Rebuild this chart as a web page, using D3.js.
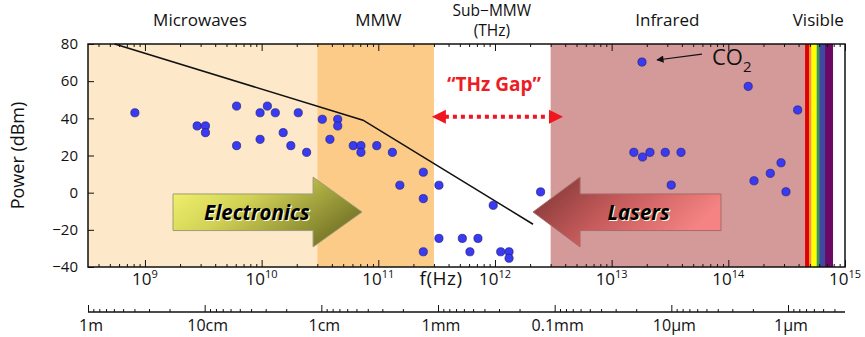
<!DOCTYPE html>
<html>
<head>
<meta charset="utf-8">
<script src="https://cdn.jsdelivr.net/npm/d3@7"></script>
<style>
  body { margin: 0; background: #fff; }
  text { font-family: "Open Sans", sans-serif; fill: #111; }
</style>
</head>
<body>
<div id="chart"></div>
<script>
// source frequency (Hz) and output power (dBm)
const sourceFreqs = [
  8.2e8, 2.8e9, 3.3e9, 3.3e9, 6.1e9, 6.1e9, 9.7e9, 9.7e9, 1.12e10, 1.31e10,
  1.53e10, 1.78e10, 2.06e10, 2.43e10, 3.31e10, 4.49e10, 4.49e10, 3.85e10, 6.1e10, 7.1e10,
  7.1e10, 9.7e10, 1.32e11, 2.43e11, 1.53e11, 3.31e11, 2.43e11, 9.66e11, 2.46e12, 3.31e11,
  5.25e11, 7.15e11, 2.43e11, 6.1e11, 1.12e12, 1.32e12, 1.32e12,
  1.55e13, 1.84e13, 2.13e13, 2.88e13, 3.93e13, 3.24e13, 1.66e14, 2.29e14, 2.83e14,
  3.12e14, 3.93e14, 1.82e13, 1.48e14
];
const sourcePowers = [
  43, 35.9, 35.9, 32.3, 46.6, 25.3, 43, 28.7, 46.6, 43,
  32.3, 25.3, 43, 21.7, 39.5, 39.5, 35.9, 28.7, 25.3, 25.3,
  21.7, 25.3, 21.7, 11, 4, 4, -3.2, -6.8, 0.4, -24.6,
  -24.6, -24.6, -31.8, -31.8, -31.8, -31.8, -35.3,
  21.7, 19.2, 21.7, 21.7, 21.7, 4.1, 6.4, 10.4, 16.1,
  0.5, 44.5, 70.3, 57.2
];

// electronics power limit line
const limitFreqs = [5.5e8, 7.4e10, 2.12e12];
const limitPowers = [80, 39, -17];

// spectral regions (Hz)
const regionNames = ["Microwaves", "MMW", "Sub\u2212MMW", "Infrared", "Visible"];
const regionLabelFreqs = [2.96e9, 1e11, 9.4e11, 3.0e13, 5.9e14];
const regionStarts = [3.25e8, 3e10, 3e11, 3e12];
const regionEnds = [3e10, 3e11, 3e12, 4.545e14];
const regionColors = ["#fde9c9", "#fccb88", "#ffffff", "#d49999"];

// visible colours, wavelength edges in nm
const visibleEdgesNm = [660, 610, 580, 525, 500, 445, 380];
const visibleColors = ["#e00000", "#f7941d", "#ffff00", "#3aa035", "#3d4a9f", "#6a0a66"];

// axes
const powerTicks = [80, 60, 40, 20, 0, -20, -40];
const freqExponents = [9, 10, 11, 12, 13, 14, 15];
const waveTicks = [1, 0.1, 0.01, 1e-3, 1e-4, 1e-5, 1e-6];
const waveLabels = ["1m", "10cm", "1cm", "1mm", "0.1mm", "10\u00b5m", "1\u00b5m"];

const width = 865, height = 337;
const plot = {left: 88, right: 845, top: 44, bottom: 267};

const svg = d3.select("#chart")
  .append("svg")
  .attr("width", width)
  .attr("height", height);

const x = d3.scaleLog()
  .domain([3.25e8, 1e15])
  .range([plot.left, plot.right]);

const y = d3.scaleLinear()
  .domain([-40, 80])
  .range([plot.bottom, plot.top]);

const lam = d3.scaleLog()
  .domain([1, 1e-6])
  .range([plot.left, 788]);

const defs = svg.append("defs");
const gElec = defs.append("linearGradient").attr("id", "elec")
  .attr("x1", 0).attr("y1", 0).attr("x2", 1).attr("y2", 0.5);
gElec.append("stop").attr("offset", "0%").attr("stop-color", "#f8f872");
gElec.append("stop").attr("offset", "45%").attr("stop-color", "#d0d055");
gElec.append("stop").attr("offset", "100%").attr("stop-color", "#7b7b2a");
const gLas = defs.append("linearGradient").attr("id", "las")
  .attr("x1", 0).attr("y1", 0).attr("x2", 1).attr("y2", 0.4);
gLas.append("stop").attr("offset", "0%").attr("stop-color", "#7a3232");
gLas.append("stop").attr("offset", "50%").attr("stop-color", "#c45a5a");
gLas.append("stop").attr("offset", "100%").attr("stop-color", "#f58383");

// region backgrounds
svg.selectAll("rect.region")
  .data(regionStarts)
  .enter()
  .append("rect")
  .attr("class", "region")
  .attr("x", d => x(d))
  .attr("y", plot.top)
  .attr("width", (d, i) => x(regionEnds[i]) - x(d))
  .attr("height", plot.bottom - plot.top)
  .attr("fill", (d, i) => regionColors[i]);

// rainbow
svg.selectAll("rect.vis")
  .data(visibleColors)
  .enter()
  .append("rect")
  .attr("class", "vis")
  .attr("x", (d, i) => x(3e17 / visibleEdgesNm[i]))
  .attr("y", plot.top)
  .attr("width", (d, i) => x(3e17 / visibleEdgesNm[i + 1]) - x(3e17 / visibleEdgesNm[i]))
  .attr("height", plot.bottom - plot.top)
  .attr("fill", d => d);

// minor/major tick values for frequency
const freqMajors = freqExponents.map(e => Math.pow(10, e));
const freqMinors = [];
for (let e = 8; e < 15; e++) {
  for (let k = 2; k <= 9; k++) {
    const v = k * Math.pow(10, e);
    if (v >= 3.25e8 && v <= 1e15) freqMinors.push(v);
  }
}

function ticks(axis, values, size, yPos) {
  const g = svg.append("g")
    .attr("transform", `translate(0,${yPos})`)
    .call(axis(x).tickValues(values).tickSize(size).tickFormat(""));
  g.select(".domain").remove();
  g.selectAll("line").attr("stroke", "#111").attr("stroke-width", 1);
}
ticks(d3.axisBottom, freqMajors, -7, plot.bottom);
ticks(d3.axisBottom, freqMinors, -3, plot.bottom);
ticks(d3.axisTop, freqMajors, -7, plot.top);
ticks(d3.axisTop, freqMinors, -3, plot.top);

// y axis
const yAxis = svg.append("g")
  .attr("transform", `translate(${plot.left},0)`)
  .call(d3.axisLeft(y).tickValues(powerTicks).tickSize(-6).tickPadding(10));
yAxis.select(".domain").remove();
yAxis.selectAll("line").attr("stroke", "#111");
yAxis.selectAll("text")
  .attr("font-size", 15)
  .attr("font-family", "Open Sans, sans-serif")
  .attr("x", -10)
  .style("fill", "#111");

// frame
svg.append("rect")
  .attr("x", plot.left)
  .attr("y", plot.top)
  .attr("width", plot.right - plot.left)
  .attr("height", plot.bottom - plot.top)
  .attr("fill", "none")
  .attr("stroke", "#111")
  .attr("stroke-width", 1.5);

// limit line
const line = d3.line()
  .x(d => x(d[0]))
  .y(d => y(d[1]));
svg.append("path")
  .datum(limitFreqs.map((f, i) => [f, limitPowers[i]]))
  .attr("d", line)
  .attr("fill", "none")
  .attr("stroke", "#111")
  .attr("stroke-width", 1.6);

// arrows
function arrowPath(tail, base, tip, bodyTop, bodyBot, headTop, headBot, mid) {
  return line([
    [tail, bodyTop], [base, bodyTop], [base, headTop], [tip, mid],
    [base, headBot], [base, bodyBot], [tail, bodyBot]
  ]) + "Z";
}
svg.append("path")
  .attr("d", arrowPath(1.74e9, 2.76e10, 7.25e10, -0.7, -20.4, 8.4, -29.2, -10.4))
  .attr("fill", "url(#elec)")
  .attr("stroke", "#9c9c78")
  .attr("stroke-width", 1);
svg.append("path")
  .attr("d", arrowPath(8.65e13, 5.36e12, 2.12e12, -0.7, -20.4, 8.4, -29.2, -10.4))
  .attr("fill", "url(#las)")
  .attr("stroke", "#a86a6a")
  .attr("stroke-width", 1);

function shadowText(txt, fx, py) {
  [["#fffbe0", 1.2], ["#000", 0]].forEach(s => {
    svg.append("text")
      .attr("x", x(fx) + s[1])
      .attr("y", y(py) + s[1])
      .attr("text-anchor", "middle")
      .attr("font-family", "Liberation Sans, Arial, sans-serif")
      .attr("font-size", 20.5)
      .attr("font-weight", "bold")
      .attr("font-style", "italic")
      .style("fill", s[0])
      .text(txt);
  });
}
shadowText("Electronics", 9.1e9, -14.5);
shadowText("Lasers", 1.7e13, -14.5);

// data points
svg.selectAll("circle.src")
  .data(sourceFreqs)
  .enter()
  .append("circle")
  .attr("class", "src")
  .attr("cx", d => x(d))
  .attr("cy", (d, i) => y(sourcePowers[i]))
  .attr("r", 4.1)
  .attr("fill", "#3a3af2")
  .attr("stroke", "#20207a")
  .attr("stroke-width", 0.7);

// THz gap
const gapY = y(40.9);
const gapL = x(2.88e11), gapR = x(3.83e12);
svg.append("line")
  .attr("x1", gapL + 13).attr("x2", gapR - 13)
  .attr("y1", gapY).attr("y2", gapY)
  .attr("stroke", "#f01620")
  .attr("stroke-width", 4)
  .attr("stroke-dasharray", "4,4");
svg.append("path")
  .attr("d", `M${gapL},${gapY}L${gapL + 14},${gapY - 7}L${gapL + 14},${gapY + 7}Z`)
  .attr("fill", "#f01620");
svg.append("path")
  .attr("d", `M${gapR},${gapY}L${gapR - 14},${gapY - 7}L${gapR - 14},${gapY + 7}Z`)
  .attr("fill", "#f01620");
svg.append("text")
  .attr("x", x(9.8e11))
  .attr("y", y(54.5))
  .attr("text-anchor", "middle")
  .attr("font-family", "Liberation Sans, Arial, sans-serif")
  .attr("font-size", 19)
  .attr("font-weight", "bold")
  .style("fill", "#ee1c24")
  .text("\u201cTHz Gap\u201d");

// CO2 note
defs.append("marker")
  .attr("id", "tip")
  .attr("viewBox", "0 0 10 10")
  .attr("refX", 9).attr("refY", 5)
  .attr("markerWidth", 8).attr("markerHeight", 6)
  .attr("orient", "auto")
  .append("path")
  .attr("d", "M0,0L10,5L0,10Z")
  .attr("fill", "#111");
svg.append("line")
  .attr("x1", x(5.94e13)).attr("y1", y(74.6))
  .attr("x2", x(2.45e13)).attr("y2", y(71.4))
  .attr("stroke", "#111")
  .attr("stroke-width", 1.2)
  .attr("marker-end", "url(#tip)");
const co2 = svg.append("text")
  .attr("x", x(7.24e13))
  .attr("y", y(68.7))
  .attr("font-family", "Liberation Serif, Times New Roman, serif")
  .attr("font-size", 22);
co2.append("tspan").text("CO");
co2.append("tspan").attr("font-size", 15).attr("dy", 7).text("2");

// region labels
svg.selectAll("text.region")
  .data(regionNames)
  .enter()
  .append("text")
  .attr("class", "region")
  .attr("x", (d, i) => x(regionLabelFreqs[i]))
  .attr("y", (d, i) => i === 2 ? 16 : 26)
  .attr("font-size", (d, i) => i === 2 ? 15.5 : 17)
  .attr("text-anchor", "middle")
  .text(d => d);
svg.append("text")
  .attr("x", x(9.4e11))
  .attr("y", 36)
  .attr("text-anchor", "middle")
  .attr("font-size", 15.5)
  .text("(THz)");

// frequency labels
svg.selectAll("text.freq")
  .data(freqExponents)
  .enter()
  .append("text")
  .attr("class", "freq")
  .attr("x", d => x(Math.pow(10, d)))
  .attr("y", 285)
  .attr("text-anchor", "middle")
  .attr("font-size", 17)
  .each(function(d) {
    d3.select(this).append("tspan").text("10");
    d3.select(this).append("tspan").attr("font-size", 11).attr("dy", -7).text(d);
  });
svg.append("text")
  .attr("x", 441)
  .attr("y", 285)
  .attr("text-anchor", "middle")
  .attr("font-size", 19)
  .attr("letter-spacing", 0.5)
  .text("f(Hz)");

// y label
svg.append("text")
  .attr("transform", `translate(24,${(plot.top + plot.bottom) / 2}) rotate(-90)`)
  .attr("text-anchor", "middle")
  .attr("font-size", 18)
  .text("Power (dBm)");

// wavelength axis
const waveY = 312;
const waveMinors = [];
for (let e = -7; e < 0; e++) {
  for (let k = 2; k <= 9; k++) {
    const v = k * Math.pow(10, e);
    if (v >= 3.3e-7 && v < 1) waveMinors.push(v);
  }
}
svg.append("line")
  .attr("x1", plot.left).attr("x2", plot.right)
  .attr("y1", waveY).attr("y2", waveY)
  .attr("stroke", "#111")
  .attr("stroke-width", 1.5);
[[waveTicks, -7], [waveMinors, -3]].forEach(t => {
  const g = svg.append("g")
    .attr("transform", `translate(0,${waveY})`)
    .call(d3.axisBottom(lam).tickValues(t[0]).tickSize(t[1]).tickFormat(""));
  g.select(".domain").remove();
  g.selectAll("line").attr("stroke", "#111");
});
svg.selectAll("text.wave")
  .data(waveTicks)
  .enter()
  .append("text")
  .attr("class", "wave")
  .attr("x", d => lam(d) + 3)
  .attr("y", 331)
  .attr("text-anchor", "middle")
  .attr("font-size", 16)
  .text((d, i) => waveLabels[i]);
</script>
</body>
</html>
